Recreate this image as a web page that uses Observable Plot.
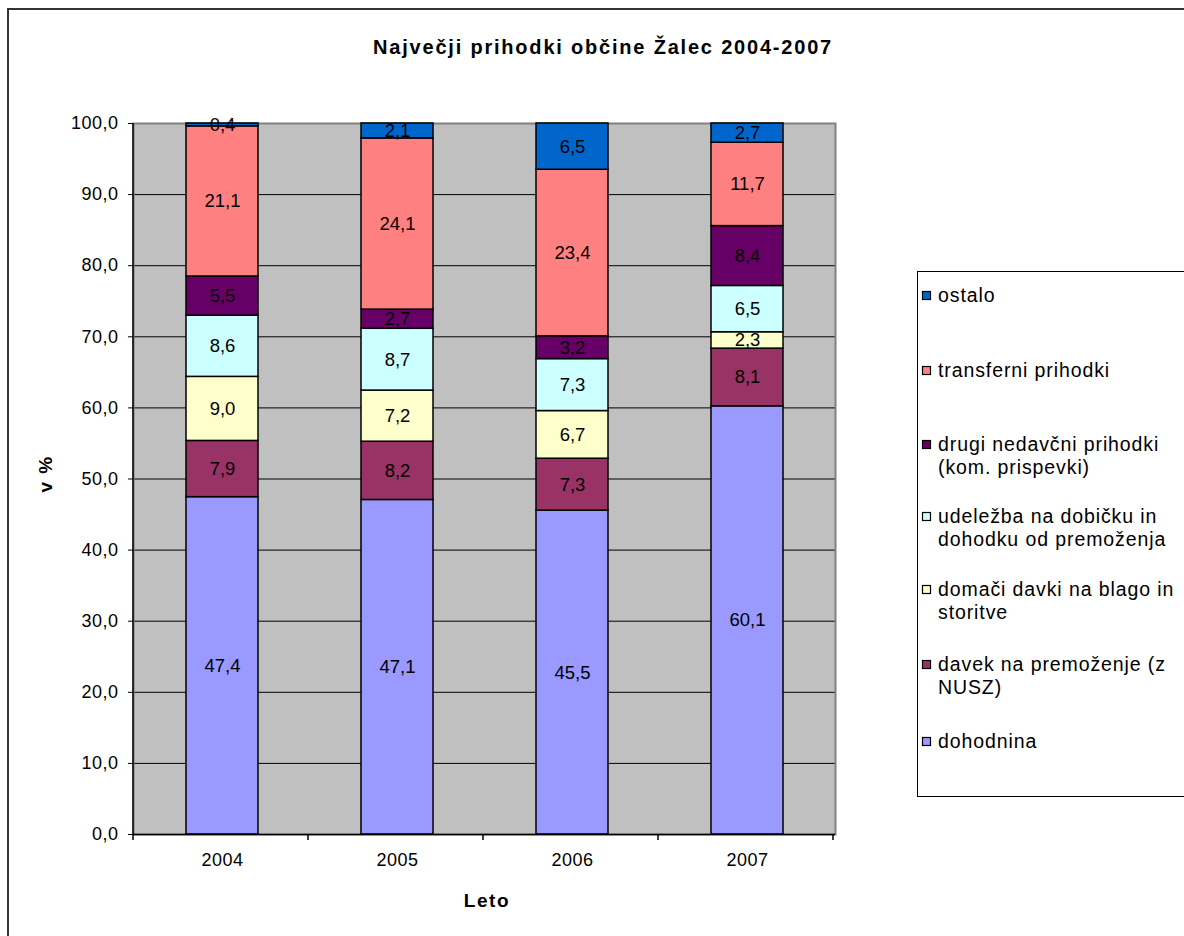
<!DOCTYPE html>
<html><head><meta charset="utf-8">
<script src="https://cdn.jsdelivr.net/npm/d3@7"></script>
<script src="https://cdn.jsdelivr.net/npm/@observablehq/plot@0.6"></script>
<style>
body{margin:0;background:#fff;}
#wrap{position:relative;width:1184px;height:936px;overflow:hidden;font-family:"Liberation Sans",Arial,sans-serif;}
#border{position:absolute;left:7px;top:8px;width:1200px;height:1000px;border-left:2px solid #333;border-top:2px solid #333;}
#chart{position:absolute;left:0;top:0;}
#overlay{position:absolute;left:0;top:0;}
#chart [aria-label$="tick label"] text{letter-spacing:0.5px;}
</style></head><body>
<div id="wrap"><div id="border"></div><div id="chart"></div><svg id="overlay" width="1184" height="936"></svg></div>
<script>
const years = ["2004", "2005", "2006", "2007"];
const series = [
  "dohodnina",
  "davek na premoženje (z NUSZ)",
  "domači davki na blago in storitve",
  "udeležba na dobičku in dohodku od premoženja",
  "drugi nedavčni prihodki (kom. prispevki)",
  "transferni prihodki",
  "ostalo"
];
const legendLines = [
  ["dohodnina"],
  ["davek na premoženje (z", "NUSZ)"],
  ["domači davki na blago in", "storitve"],
  ["udeležba na dobičku in", "dohodku od premoženja"],
  ["drugi nedavčni prihodki", "(kom. prispevki)"],
  ["transferni prihodki"],
  ["ostalo"]
];
const colors = ["#9999FF", "#993366", "#FFFFCC", "#CCFFFF", "#660066", "#FF8080", "#0066CC"];
const dohodnina = [47.4, 47.1, 45.5, 60.1];
const davekPremozenje = [7.9, 8.2, 7.3, 8.1];
const domaciDavki = [9.0, 7.2, 6.7, 2.3];
const udelezba = [8.6, 8.7, 7.3, 6.5];
const drugiNedavcni = [5.5, 2.7, 3.2, 8.4];
const transferni = [21.1, 24.1, 23.4, 11.7];
const ostalo = [0.4, 2.1, 6.5, 2.7];
const seriesValues = [dohodnina, davekPremozenje, domaciDavki, udelezba, drugiNedavcni, transferni, ostalo];
const yTickLabels = ["0,0", "10,0", "20,0", "30,0", "40,0", "50,0", "60,0", "70,0", "80,0", "90,0", "100,0"];
const titleText = "Največji prihodki občine Žalec 2004-2007";
const xTitle = "Leto";
const yTitle = "v %";

const rows = years.flatMap((yr, i) => series.map((s, j) => ({year: yr, series: s, value: seriesValues[j][i]})));
const fmt = v => v.toFixed(1).replace(".", ",");
const yTicks = yTickLabels.map((_, i) => i / 10);

const chart = Plot.plot({
  width: 1184, height: 936,
  marginLeft: 133, marginRight: 349, marginTop: 123, marginBottom: 102,
  style: {fontFamily: "'Liberation Sans', Arial, sans-serif", fontSize: "16px", background: "transparent", color: "#000", overflow: "visible"},
  x: {domain: years, paddingInner: 0.59, paddingOuter: 0.295, label: null},
  y: {domain: [0, 1], label: null},
  color: {domain: series, range: colors},
  marks: [
    Plot.frame({fill: "#C0C0C0", stroke: null}),
    Plot.gridY(yTicks.slice(1, -1), {stroke: "#000", strokeOpacity: 1, strokeWidth: 1}),
    Plot.frame({stroke: "#808080", strokeWidth: 2}),
    Plot.barY(rows, Plot.stackY({x: "year", y: "value", fill: "series", stroke: "#000", strokeWidth: 1.5, offset: "normalize"})),
    Plot.text(rows, Plot.stackY({x: "year", y: "value", text: d => fmt(d.value), offset: "normalize", fill: "#000", fontSize: 18.5})),
    Plot.ruleY([0], {stroke: "#000", strokeWidth: 1.5}),
    Plot.axisY({ticks: yTicks, tickSize: 5, tickPadding: 10, tickFormat: d => yTickLabels[Math.round(d * 10)], fontSize: 18, label: null}),
    Plot.axisX({tickSize: 0, tickPadding: 19, fontSize: 18, label: null})
  ]
});
document.getElementById("chart").appendChild(chart);

// left axis line and category boundary ticks using the plot's scales
const xs = chart.scale("x"), ys = chart.scale("y");
const svg = d3.select(chart);
const x0 = xs.range[0];
const yBottom = ys.apply(0), yTop = ys.apply(1);
svg.append("line").attr("x1", x0).attr("x2", x0).attr("y1", yTop).attr("y2", yBottom).attr("stroke", "#000").attr("stroke-width", 1.5);
d3.range(years.length + 1).forEach(i => {
  const bx = x0 + i * xs.step;
  svg.append("line").attr("x1", bx).attr("x2", bx).attr("y1", yBottom).attr("y2", yBottom + 6).attr("stroke", "#000").attr("stroke-width", 1.5);
});

// titles and legend
const ov = d3.select("#overlay").style("font-family", "'Liberation Sans', Arial, sans-serif");
ov.append("text").attr("x", 603).attr("y", 54).attr("text-anchor", "middle").attr("font-weight", "bold").attr("font-size", 20).attr("letter-spacing", "1.8px").text(titleText);
ov.append("text").attr("x", 487).attr("y", 907).attr("text-anchor", "middle").attr("font-weight", "bold").attr("font-size", 19).attr("letter-spacing", "1.6px").text(xTitle);
ov.append("text").attr("transform", "translate(52,474) rotate(-90)").attr("text-anchor", "middle").attr("font-weight", "bold").attr("font-size", 19).attr("letter-spacing", "1.4px").text(yTitle);

ov.append("rect").attr("x", 917.5).attr("y", 271.5).attr("width", 300).attr("height", 525).attr("fill", "#fff").attr("stroke", "#000").attr("stroke-width", 1);
const legendTop = [742, 665, 590, 517, 445, 371, 296]; // first-line centers, bottom series first
series.forEach((s, j) => {
  const cy = legendTop[j];
  ov.append("rect").attr("x", 922.5).attr("y", cy - 4.5).attr("width", 8).attr("height", 8).attr("fill", colors[j]).attr("stroke", "#000").attr("stroke-width", 1.2);
  legendLines[j].forEach((line, k) => {
    ov.append("text").attr("x", 938).attr("y", cy + 6 + k * 23).attr("font-size", 19.5).attr("letter-spacing", "0.9px").text(line);
  });
});
</script>
</body></html>
